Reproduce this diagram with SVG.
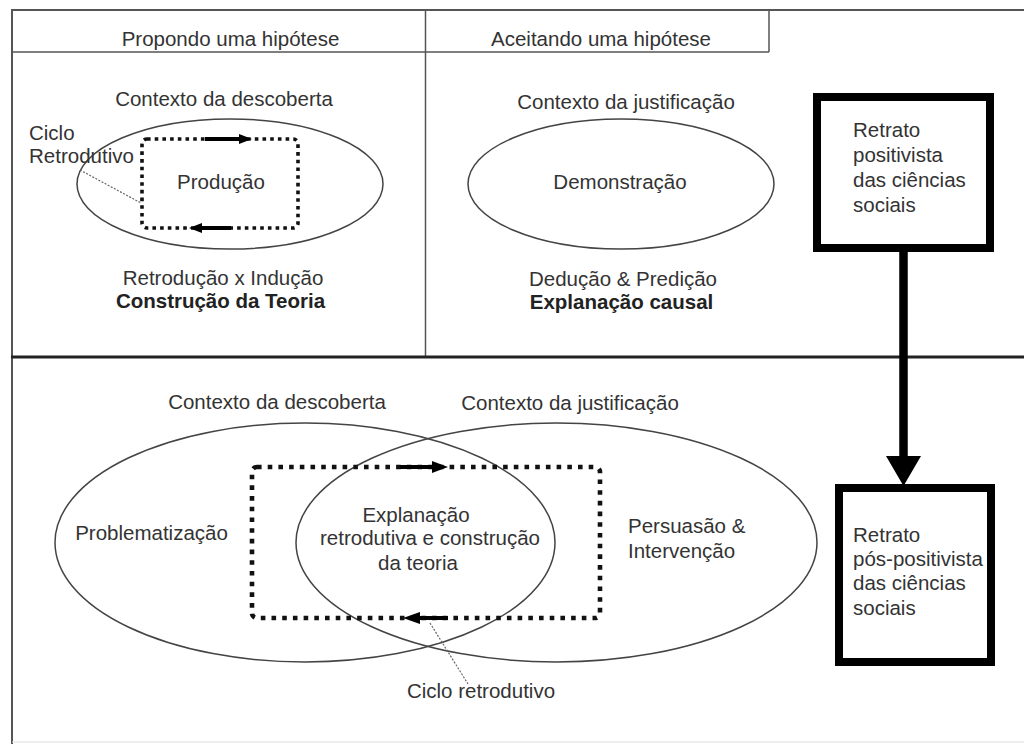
<svg xmlns="http://www.w3.org/2000/svg" width="1024" height="744" viewBox="0 0 1024 744">
  <style>
    text { font-family: "Liberation Sans", Arial, sans-serif; font-size: 20.5px; fill: #333; }
    .c { text-anchor: middle; }
    .b { font-weight: bold; fill: #222; }
    .frame { stroke: #555; stroke-width: 2; fill: none; }
    .thin { stroke: #555; stroke-width: 1.5; fill: none; }
    .oval { stroke: #444; stroke-width: 1.5; fill: none; }
    .dotA { stroke: #111; stroke-width: 3.6; fill: none; stroke-dasharray: 3.6 4.1; }
    .dotB { stroke: #111; stroke-width: 4.6; fill: none; stroke-dasharray: 4.6 6.1; }
    .shaft { stroke: #000; stroke-width: 4; }
    .head { fill: #000; }
    .leader { stroke: #666; stroke-width: 1.2; stroke-dasharray: 2 1.5; fill: none; }
    .heavy { stroke: #000; stroke-width: 8; fill: #fff; }
  </style>

  <rect width="1024" height="744" fill="#fff"/>

  <!-- page frame and panel rules -->
  <g id="frame">
    <line class="frame" x1="11" y1="10" x2="1024" y2="10"/>
    <line class="frame" x1="12" y1="9" x2="12" y2="744"/>
    <line class="thin" x1="11" y1="52" x2="769" y2="52"/>
    <line class="thin" x1="769" y1="10" x2="769" y2="52"/>
    <line class="thin" x1="425.5" y1="10" x2="425.5" y2="357"/>
    <line x1="11" y1="357" x2="1024" y2="357" stroke="#222" stroke-width="3"/>
    <line x1="12" y1="742" x2="1024" y2="742" stroke="#ddd" stroke-width="1"/>
  </g>

  <!-- column headings -->
  <g id="header-propondo">
    <text class="c" x="230.5" y="46">Propondo uma hipótese</text>
  </g>
  <g id="header-aceitando">
    <text class="c" x="601" y="46">Aceitando uma hipótese</text>
  </g>

  <!-- upper left: discovery -->
  <g id="descoberta-top">
    <text class="c" x="224" y="106">Contexto da descoberta</text>
    <ellipse class="oval" cx="230" cy="184" rx="153" ry="65"/>
    <rect class="dotA" x="142" y="139" width="156" height="89" rx="5"/>
    <text class="c" x="221" y="189">Produção</text>
    <text class="c" x="223" y="285">Retrodução x Indução</text>
    <text class="c b" x="220.5" y="308">Construção da Teoria</text>
  </g>

  <g id="ciclo-top">
    <text x="29" y="140">Ciclo</text>
    <text x="29" y="163">Retrodutivo</text>
  </g>

  <!-- upper right: justification -->
  <g id="justificacao-top">
    <text class="c" x="626" y="109">Contexto da justificação</text>
    <ellipse class="oval" cx="621" cy="184" rx="153" ry="65"/>
    <text class="c" x="620" y="189">Demonstração</text>
    <text class="c" x="623" y="286">Dedução &amp; Predição</text>
    <text class="c b" x="621.5" y="309">Explanação causal</text>
  </g>

  <g id="retrato-positivista">
    <rect class="heavy" x="817" y="97" width="173" height="151"/>
    <text x="853" y="137">Retrato</text>
    <text x="853" y="162">positivista</text>
    <text x="853" y="187">das ciências</text>
    <text x="853" y="212">sociais</text>
  </g>

  <!-- lower panel -->
  <g id="descoberta-bottom">
    <text class="c" x="277" y="409">Contexto da descoberta</text>
    <ellipse class="oval" cx="305" cy="542.5" rx="250" ry="119.5"/>
    <text class="c" x="151.5" y="540">Problematização</text>
  </g>

  <g id="justificacao-bottom">
    <text class="c" x="570" y="410">Contexto da justificação</text>
    <ellipse class="oval" cx="556.5" cy="542.5" rx="260.5" ry="119.5"/>
    <text x="628" y="533">Persuasão &amp;</text>
    <text x="628" y="558">Intervenção</text>
  </g>

  <g id="ciclo-bottom">
    <rect class="dotB" x="252" y="467" width="348" height="151" rx="5"/>
    <text class="c" x="416" y="522">Explanação</text>
    <text class="c" x="430" y="545">retrodutiva e construção</text>
    <text class="c" x="418" y="570">da teoria</text>
    <text class="c" x="481" y="698">Ciclo retrodutivo</text>
  </g>

  <g id="retrato-pos-positivista">
    <rect class="heavy" x="839" y="488" width="152" height="174"/>
    <text x="853" y="542">Retrato</text>
    <text x="853" y="566">pós-positivista</text>
    <text x="853" y="590">das ciências</text>
    <text x="853" y="615">sociais</text>
  </g>

  <!-- connectors: cycle arrows, leader lines, transition arrow -->
  <g id="connectors">
    <line class="shaft" x1="205" y1="139" x2="241" y2="139"/>
    <polygon class="head" points="239,134 252,139 239,144"/>
    <line class="shaft" x1="231" y1="228" x2="199" y2="228"/>
    <polygon class="head" points="202,223 189,228 202,233"/>
    <line class="leader" x1="80" y1="170" x2="141" y2="203"/>

    <line class="shaft" x1="400" y1="467" x2="435" y2="467"/>
    <polygon class="head" points="432,461 448,467 432,473"/>
    <line class="shaft" x1="448" y1="618" x2="417" y2="618"/>
    <polygon class="head" points="420,612 403,618 420,624"/>
    <line class="leader" x1="430" y1="623" x2="468" y2="684"/>

    <line x1="903.5" y1="250" x2="903.5" y2="458" stroke="#000" stroke-width="8.5"/>
    <polygon class="head" points="886,456 921,456 903.5,486"/>
  </g>
</svg>
